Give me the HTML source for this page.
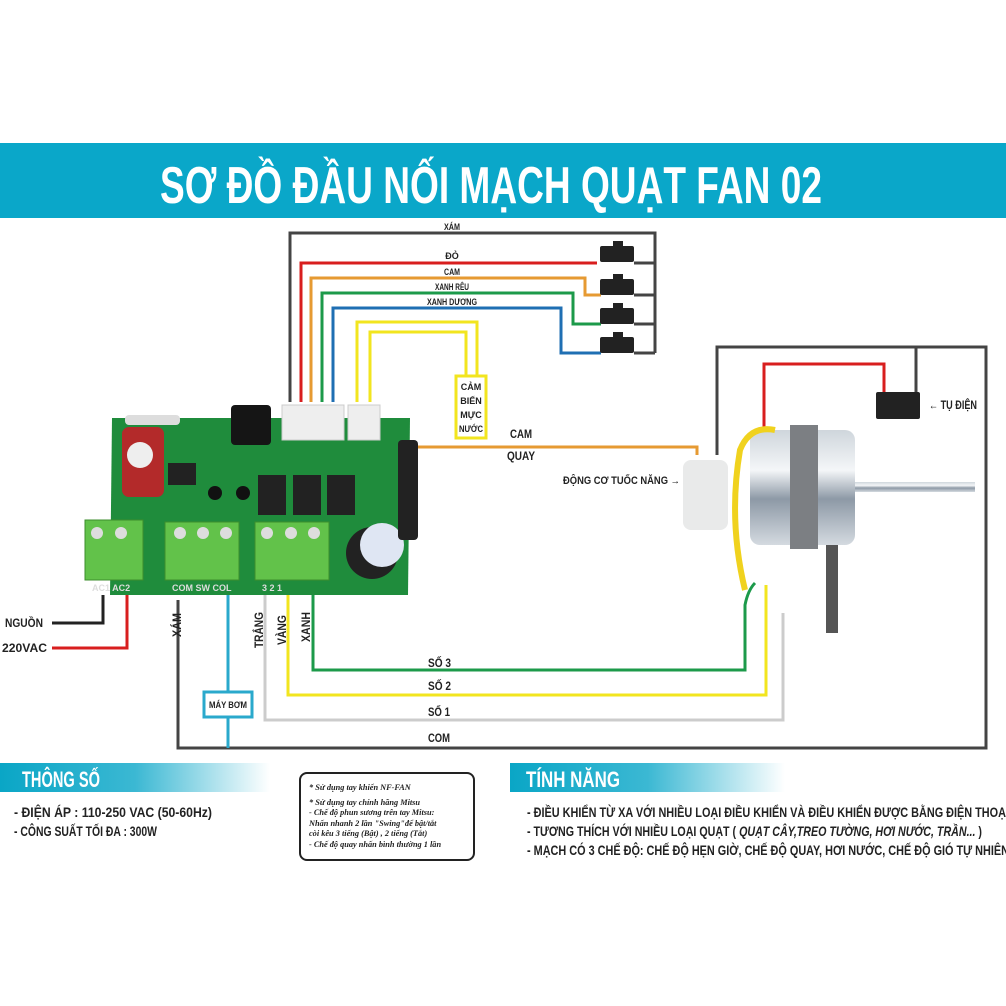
<!DOCTYPE html>
<html><head><meta charset="utf-8"><style>
html,body{margin:0;padding:0;background:#fff;}
svg{display:block;}
.c{font-family:"Liberation Sans Narrow","Liberation Sans",sans-serif;font-weight:bold;}
</style></head><body>
<svg width="1006" height="1006" viewBox="0 0 1006 1006" xmlns="http://www.w3.org/2000/svg">
<defs>
<linearGradient id="g1" x1="0" x2="1"><stop offset="0" stop-color="#0aa6c6"/><stop offset="0.5" stop-color="#3bb8d3"/><stop offset="1" stop-color="#fff"/></linearGradient>
<linearGradient id="met" x1="0" x2="0" y1="0" y2="1"><stop offset="0" stop-color="#cfd6dc"/><stop offset="0.35" stop-color="#f4f6f8"/><stop offset="0.6" stop-color="#8d99a6"/><stop offset="1" stop-color="#d4dae0"/></linearGradient>
</defs>
<rect x="0" y="143" width="1006" height="75" fill="#0aa7c9"/>
<text x="160" y="203" class="c" font-size="52" fill="#fff" textLength="662" lengthAdjust="spacingAndGlyphs">SƠ ĐỒ ĐẦU NỐI MẠCH QUẠT FAN 02</text>

<g fill="none" stroke-width="3">
<path d="M290 402 V233 H655 V353" stroke="#444"/>
<path d="M634 263 H655 M634 295 H655 M634 324 H655 M634 353 H655" stroke="#444"/>
<path d="M301 402 V263 H597" stroke="#d81e1e"/>
<path d="M311 402 V278 H585 V295 H601" stroke="#e69a32"/>
<path d="M322 402 V293 H573 V324 H601" stroke="#1c9a4a"/>
<path d="M333 402 V308 H561 V353 H601" stroke="#1f6fb3"/>
<path d="M357 402 V322 H477 V375" stroke="#f2e51f"/>
<path d="M370 402 V332 H466 V375" stroke="#f2e51f"/>
<path d="M717 455 V347 H986 V748 H178 V600" stroke="#444"/>
<path d="M916 347 V392" stroke="#444"/>
<path d="M764 470 V364 H884 V392" stroke="#d81e1e"/>
<path d="M390 447 H697 V455" stroke="#e69a32"/>
<path d="M197 520 V444 H400" stroke="#e69a32"/>
<path d="M52 623 H103 V595" stroke="#222"/>
<path d="M52 648 H127 V595" stroke="#d81e1e"/>
<path d="M228 595 V748" stroke="#2aa9cc"/>
<path d="M265 595 V720 H783 V613" stroke="#ccc"/>
<path d="M288 595 V695 H766 V585" stroke="#f2e51f"/>
<path d="M313 595 V670 H745 V605 Q748 590 755 583" stroke="#1c9a4a"/>
</g>
<g fill="#222"><rect x="600" y="246" width="34" height="16" rx="2"/><rect x="600" y="279" width="34" height="16" rx="2"/><rect x="600" y="308" width="34" height="16" rx="2"/><rect x="600" y="337" width="34" height="16" rx="2"/>
<rect x="613" y="241" width="10" height="6"/><rect x="613" y="274" width="10" height="6"/><rect x="613" y="303" width="10" height="6"/><rect x="613" y="332" width="10" height="6"/></g>
<g class="c" font-size="9" fill="#222" text-anchor="middle">
<text x="452" y="230" textLength="16" lengthAdjust="spacingAndGlyphs">XÁM</text><text x="452" y="259">ĐỎ</text><text x="452" y="275" textLength="16" lengthAdjust="spacingAndGlyphs">CAM</text><text x="452" y="290" textLength="34" lengthAdjust="spacingAndGlyphs">XANH RÊU</text><text x="452" y="305" textLength="50" lengthAdjust="spacingAndGlyphs">XANH DƯƠNG</text></g>
<rect x="456" y="376" width="30" height="62" fill="#fff" stroke="#f2e51f" stroke-width="3"/>
<g class="c" font-size="9" fill="#222" text-anchor="middle"><text x="471" y="390">CẢM</text><text x="471" y="404">BIẾN</text><text x="471" y="418">MỰC</text><text x="471" y="432" textLength="24" lengthAdjust="spacingAndGlyphs">NƯỚC</text></g>
<text x="510" y="438" class="c" font-size="12" fill="#222" textLength="22" lengthAdjust="spacingAndGlyphs">CAM</text>
<text x="507" y="460" class="c" font-size="12" fill="#222" textLength="28" lengthAdjust="spacingAndGlyphs">QUAY</text>

<path d="M112 418 H410 L408 595 H110 Z" fill="#1f8c3c"/>
<rect x="282" y="405" width="62" height="35" fill="#eee" stroke="#ccc"/>
<rect x="348" y="405" width="32" height="35" fill="#eee" stroke="#ccc"/>
<rect x="231" y="405" width="40" height="40" rx="4" fill="#151515"/>
<rect x="122" y="427" width="42" height="70" rx="7" fill="#b32a2a"/>
<circle cx="140" cy="455" r="13" fill="#eee"/>
<rect x="125" y="415" width="55" height="10" rx="4" fill="#ddd"/>
<rect x="168" y="463" width="28" height="22" fill="#222"/>
<rect x="258" y="475" width="28" height="40" fill="#222"/><rect x="293" y="475" width="28" height="40" fill="#222"/><rect x="327" y="475" width="28" height="40" fill="#222"/>
<circle cx="215" cy="493" r="7" fill="#111"/><circle cx="243" cy="493" r="7" fill="#111"/>
<g fill="#62c24a" stroke="#3c8e2c"><rect x="85" y="520" width="58" height="60"/><rect x="165" y="522" width="74" height="58"/><rect x="255" y="522" width="74" height="58"/></g>
<g fill="#ddd"><circle cx="97" cy="533" r="6"/><circle cx="121" cy="533" r="6"/><circle cx="180" cy="533" r="6"/><circle cx="203" cy="533" r="6"/><circle cx="226" cy="533" r="6"/><circle cx="267" cy="533" r="6"/><circle cx="291" cy="533" r="6"/><circle cx="314" cy="533" r="6"/></g>
<circle cx="372" cy="553" r="26" fill="#222"/><circle cx="382" cy="545" r="22" fill="#dfe6f3"/>
<rect x="398" y="440" width="20" height="100" rx="4" fill="#222"/>
<g class="c" font-size="9" fill="#ddd"><text x="92" y="591">AC1 AC2</text><text x="172" y="591">COM SW COL</text><text x="262" y="591">3   2   1</text></g>

<rect x="683" y="460" width="45" height="70" rx="8" fill="#e9eaea"/>
<rect x="750" y="430" width="105" height="115" rx="10" fill="url(#met)"/>
<rect x="790" y="425" width="28" height="124" fill="#7c7f83"/>
<rect x="855" y="482" width="120" height="10" fill="url(#met)"/>
<rect x="826" y="545" width="12" height="88" fill="#555"/>
<path d="M745 590 Q728 520 740 450 Q750 425 775 430" fill="none" stroke="#f0d21e" stroke-width="6"/>
<rect x="876" y="392" width="44" height="27" rx="2" fill="#222"/>
<text x="929" y="409" class="c" font-size="12" fill="#222" textLength="48" lengthAdjust="spacingAndGlyphs">← TỤ ĐIỆN</text>
<text x="563" y="484" class="c" font-size="11" fill="#222" textLength="117" lengthAdjust="spacingAndGlyphs">ĐỘNG CƠ TUỐC NĂNG →</text>

<g class="c" font-size="12" fill="#222">
<text x="5" y="627" textLength="38" lengthAdjust="spacingAndGlyphs">NGUỒN</text><text x="2" y="652" textLength="45" lengthAdjust="spacingAndGlyphs">220VAC</text>
<text x="428" y="667" textLength="23" lengthAdjust="spacingAndGlyphs">SỐ 3</text><text x="428" y="690" textLength="23" lengthAdjust="spacingAndGlyphs">SỐ 2</text><text x="428" y="716" textLength="22" lengthAdjust="spacingAndGlyphs">SỐ 1</text><text x="428" y="742" textLength="22" lengthAdjust="spacingAndGlyphs">COM</text>
<text transform="translate(181 637) rotate(-90)" textLength="24" lengthAdjust="spacingAndGlyphs">XÁM</text>
<text transform="translate(263 648) rotate(-90)" textLength="36" lengthAdjust="spacingAndGlyphs">TRẮNG</text>
<text transform="translate(286 645) rotate(-90)" textLength="30" lengthAdjust="spacingAndGlyphs">VÀNG</text>
<text transform="translate(310 642) rotate(-90)" textLength="30" lengthAdjust="spacingAndGlyphs">XANH</text>
</g>
<rect x="204" y="692" width="48" height="25" fill="#fff" stroke="#2aa9cc" stroke-width="3"/>
<text x="209" y="708" class="c" font-size="9" fill="#222" textLength="38" lengthAdjust="spacingAndGlyphs">MÁY BƠM</text>

<rect x="0" y="763" width="270" height="29" fill="url(#g1)"/>
<text x="22" y="787" class="c" font-size="22" fill="#fff" textLength="78" lengthAdjust="spacingAndGlyphs">THÔNG SỐ</text>
<rect x="510" y="763" width="275" height="29" fill="url(#g1)"/>
<text x="526" y="787" class="c" font-size="22" fill="#fff" textLength="94" lengthAdjust="spacingAndGlyphs">TÍNH NĂNG</text>
<g class="c" font-size="14" fill="#222">
<text x="14" y="817" textLength="198" lengthAdjust="spacingAndGlyphs">- ĐIỆN ÁP : 110-250 VAC (50-60Hz)</text>
<text x="14" y="836" textLength="143" lengthAdjust="spacingAndGlyphs">- CÔNG SUẤT TỐI ĐA : 300W</text>
<text x="527" y="817" textLength="482" lengthAdjust="spacingAndGlyphs">- ĐIỀU KHIỂN TỪ XA VỚI NHIỀU LOẠI ĐIỀU KHIỂN VÀ ĐIỀU KHIỂN ĐƯỢC BẰNG ĐIỆN THOẠI</text>
<text x="527" y="836" textLength="455" lengthAdjust="spacingAndGlyphs">- TƯƠNG THÍCH VỚI NHIỀU LOẠI QUẠT ( <tspan font-style="italic">QUẠT CÂY,TREO TƯỜNG, HƠI NƯỚC, TRẦN...</tspan> )</text>
<text x="527" y="855" textLength="482" lengthAdjust="spacingAndGlyphs">- MẠCH CÓ 3 CHẾ ĐỘ: CHẾ ĐỘ HẸN GIỜ, CHẾ ĐỘ QUAY, HƠI NƯỚC, CHẾ ĐỘ GIÓ TỰ NHIÊN</text>
</g>
<rect x="300" y="773" width="174" height="87" rx="7" fill="#fff" stroke="#222" stroke-width="2"/>
<g font-family="Liberation Serif,serif" font-style="italic" font-weight="bold" font-size="8.3" fill="#222">
<text x="309" y="790">* Sử dụng tay khiển NF-FAN</text>
<text x="309" y="805">* Sử dụng tay chính hãng Mitsu</text>
<text x="309" y="815">- Chế độ phun sương trên tay Mitsu:</text>
<text x="309" y="826">Nhấn nhanh 2 lần "Swing"để bật/tắt</text>
<text x="309" y="836">còi kêu 3 tiếng (Bật) , 2 tiếng (Tắt)</text>
<text x="309" y="847">- Chế độ quay nhấn bình thường 1 lần</text>
</g>
</svg>
</body></html>
